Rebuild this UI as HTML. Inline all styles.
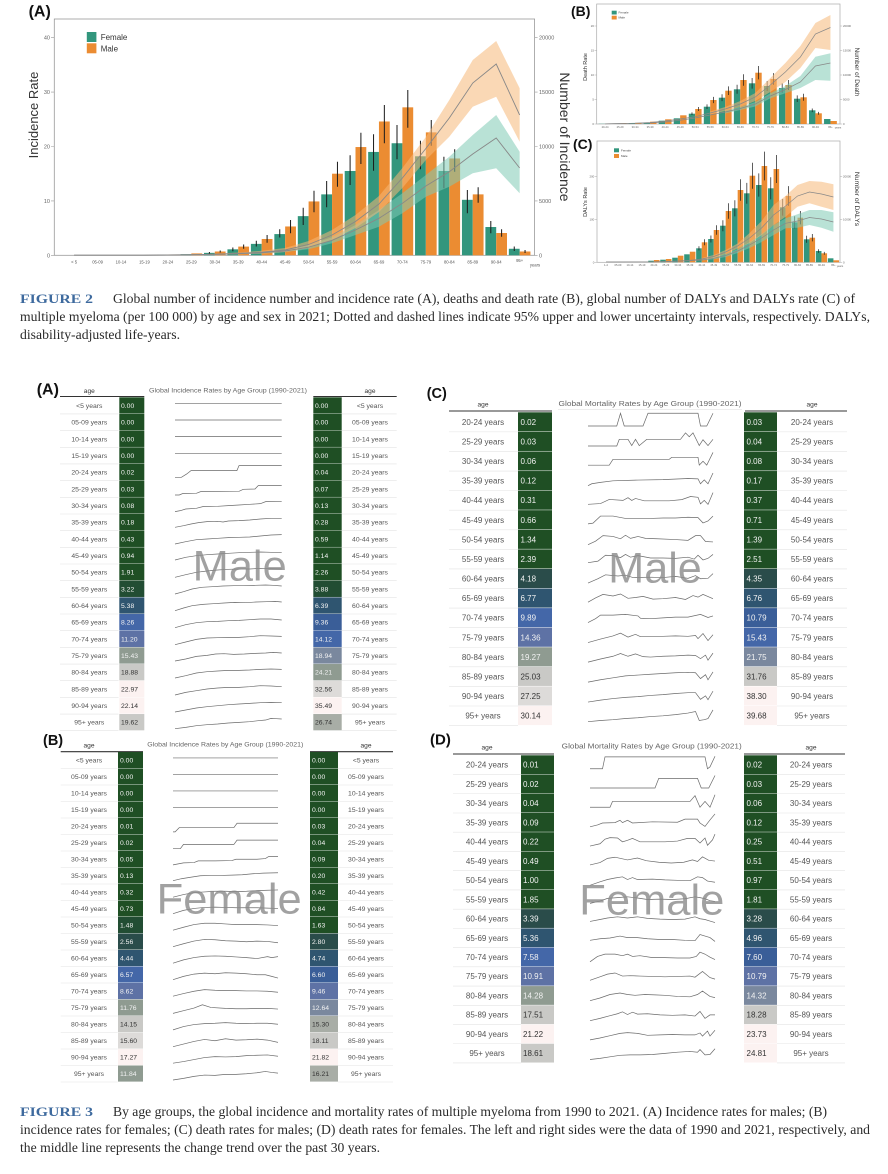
<!DOCTYPE html>
<html><head><meta charset="utf-8">
<style>
html,body{margin:0;padding:0;background:#fff;}
svg{display:block}
text{font-family:"Liberation Sans",Arial,sans-serif}
.a{font-size:6.8px;fill:#555;text-anchor:middle}
.v{font-size:6.8px;fill:#f2f2f2}
.g2 .a,.g2 .v{font-size:8px}
.vd{fill:#333}
.s{fill:none;stroke:#6a6a6a;stroke-width:0.7;vector-effect:non-scaling-stroke}
.sep{stroke:#e4e4e4;stroke-width:0.6;fill:none}
.c0{fill:#1f4f24}.c1{fill:#224d33}.c2{fill:#2a4c4a}.c3{fill:#2f5570}.c4{fill:#3a5e98}.c5{fill:#4467a8}.c6{fill:#5e72a5}.c7{fill:#7a889e}.c8{fill:#8f9b91}.c9{fill:#a8ada6}.c10{fill:#c9c9c6}.c11{fill:#dddbd9}.c12{fill:#fcf2f1}
.tf{fill:#32967d}.to{fill:#eb8c32}
.xl{font-size:4.2px;fill:#555;text-anchor:middle}
.xs{font-size:2.7px;fill:#666;text-anchor:middle}
.tk{font-size:5.5px;fill:#666}
.tk2{font-size:2.9px;fill:#666}
.cap{font-family:"Liberation Serif",serif;font-size:13.5px;fill:#2a2a2a}
.fig{font-family:"Liberation Serif",serif;font-size:12.5px;fill:#3e6a9e;font-weight:bold}
.lab{font-weight:bold;fill:#111}
.hd{font-size:6.6px;fill:#333;text-anchor:middle}
.ttl{fill:#666;text-anchor:middle}
.wm{font-size:43px;fill:#8a8a8a;fill-opacity:0.8}
</style></head>
<body>
<svg width="888" height="1174" viewBox="0 0 888 1174" xmlns="http://www.w3.org/2000/svg">
<rect width="888" height="1174" fill="#fff"/>

<!-- ================= CHART A ================= -->
<text class="lab" x="28.6" y="16.5" font-size="16">(A)</text>
<rect x="54.3" y="19" width="480.3" height="236.3" fill="none" stroke="#999" stroke-width="0.8"/>
<path d="M51 255.3h3.3M51 200.9h3.3M51 146.5h3.3M51 92.1h3.3M51 37.7h3.3M534.6 255.3h3M534.6 200.9h3M534.6 146.5h3M534.6 92.1h3M534.6 37.7h3" stroke="#999" stroke-width="0.6"/>
<g class="tk" text-anchor="end">
<text x="50" y="257.3">0</text><text x="50" y="202.9">10</text><text x="50" y="148.5">20</text><text x="50" y="94.1">30</text><text x="50" y="39.7">40</text>
</g>
<g class="tk">
<text x="539" y="257.3">0</text><text x="539" y="202.9">5000</text><text x="539" y="148.5">10000</text><text x="539" y="94.1">15000</text><text x="539" y="39.7">20000</text>
</g>
<text transform="translate(38,115) rotate(-90)" font-size="13" fill="#333" text-anchor="middle">Incidence Rate</text>
<text transform="translate(560,137) rotate(90)" font-size="14" fill="#333" text-anchor="middle">Number of Incidence</text>
<!-- legend -->
<rect class="tf" x="86.8" y="32" width="9.6" height="10"/>
<rect class="to" x="86.8" y="43.3" width="9.6" height="10"/>
<text x="100.7" y="40" font-size="8" fill="#333">Female</text>
<text x="100.7" y="51.3" font-size="8" fill="#333">Male</text>
<!-- bars female -->
<g class="tf">
<rect x="157.1" y="254.76" width="10.8" height="0.54"/>
<rect x="180.55" y="254.21" width="10.8" height="1.09"/>
<rect x="204" y="252.85" width="10.8" height="2.45"/>
<rect x="227.45" y="249.32" width="10.8" height="5.98"/>
<rect x="250.9" y="243.88" width="10.8" height="11.42"/>
<rect x="274.35" y="234.08" width="10.8" height="21.22"/>
<rect x="297.8" y="216.13" width="10.8" height="39.17"/>
<rect x="321.25" y="194.37" width="10.8" height="60.93"/>
<rect x="344.7" y="170.98" width="10.8" height="84.32"/>
<rect x="368.15" y="151.94" width="10.8" height="103.36"/>
<rect x="391.6" y="143.24" width="10.8" height="112.06"/>
<rect x="415.05" y="156.29" width="10.8" height="99.01"/>
<rect x="438.5" y="170.98" width="10.8" height="84.32"/>
<rect x="461.95" y="199.81" width="10.8" height="55.49"/>
<rect x="485.4" y="227.01" width="10.8" height="28.29"/>
<rect x="508.85" y="248.77" width="10.8" height="6.53"/>
</g>
<g class="to">
<rect x="167.9" y="254.48" width="10.8" height="0.82"/>
<rect x="191.35" y="253.4" width="10.8" height="1.9"/>
<rect x="214.8" y="251.49" width="10.8" height="3.81"/>
<rect x="238.25" y="246.6" width="10.8" height="8.7"/>
<rect x="261.7" y="238.98" width="10.8" height="16.32"/>
<rect x="285.15" y="226.47" width="10.8" height="28.83"/>
<rect x="308.6" y="201.44" width="10.8" height="53.86"/>
<rect x="332.05" y="173.7" width="10.8" height="81.6"/>
<rect x="355.5" y="147.04" width="10.8" height="108.26"/>
<rect x="378.95" y="121.48" width="10.8" height="133.82"/>
<rect x="402.4" y="107.33" width="10.8" height="147.97"/>
<rect x="425.85" y="132.36" width="10.8" height="122.94"/>
<rect x="449.3" y="158.47" width="10.8" height="96.83"/>
<rect x="472.75" y="194.37" width="10.8" height="60.93"/>
<rect x="496.2" y="233" width="10.8" height="22.3"/>
<rect x="519.65" y="251.49" width="10.8" height="3.81"/>
</g>
<path stroke="#1a1a1a" stroke-width="1" fill="none" d="M209.4 252V253.7M232.85 247.5V251.2M256.3 240.7V246.5M279.75 229.3V237.5M303.2 207.7V225M326.65 181V207.3M350.1 155.3V185M373.55 134.3V170.7M397 125V159.3M420.45 140.7V169.3M443.9 156.7V188.3M467.35 190V213.3M490.8 221V233.3M514.25 246.5V251M220.2 250.5V252.5M243.65 244.5V248.8M267.1 235V242.7M290.55 220V233.3M314 190.7V212.3M337.45 161.7V186.7M360.9 132.7V164M384.35 105V143.3M407.8 90V127.7M431.25 120V145.7M454.7 149.3V171.7M478.15 187.3V202.7M501.6 229.3V236.7M525.05 250V253"/>
<!-- bands -->
<polygon fill="#7fcab5" fill-opacity="0.55" points="167.9,254.8 191.35,254.4 214.8,254 238.25,253.2 261.7,252 285.15,250 308.6,245 332.05,237.3 355.5,225 378.95,210 402.4,193.3 425.85,175 449.3,156.7 472.75,135 496.2,115 519.65,151.7 519.65,193.3 496.2,168.3 472.75,173.3 449.3,186.7 425.85,196.7 402.4,213.3 378.95,226.7 355.5,235 332.05,243.3 308.6,249.3 285.15,252 261.7,253.6 238.25,254.2 214.8,254.7 191.35,254.9 167.9,255.1"/>
<polygon fill="#f5b878" fill-opacity="0.55" points="167.9,254.9 191.35,254.5 214.8,253.8 238.25,252.5 261.7,250.8 285.15,248 308.6,241 332.05,230 355.5,215 378.95,196 402.4,168 425.85,137 449.3,100 472.75,60 496.2,41 519.65,88.3 519.65,141.7 496.2,96.7 472.75,106.7 449.3,136.7 425.85,160 402.4,188 378.95,212 355.5,228 332.05,240 308.6,248 285.15,252 261.7,253.6 238.25,254.2 214.8,254.7 191.35,255 167.9,255.2"/>
<polyline fill="none" stroke="#888" stroke-width="0.9" points="74.1,255.2 144.45,255.2 167.9,255 191.35,254.8 214.8,254.4 238.25,253.7 261.7,252.8 285.15,251 308.6,247.2 332.05,240.3 355.5,230 378.95,218.3 402.4,203.3 425.85,186 449.3,171.7 472.75,154 496.2,138 519.65,168"/>
<polyline fill="none" stroke="#888" stroke-width="0.9" points="74.1,255.2 144.45,255.2 167.9,255 191.35,254.7 214.8,254.2 238.25,253.3 261.7,252.2 285.15,250 308.6,244.5 332.05,235 355.5,221.5 378.95,204 402.4,178 425.85,148.5 449.3,118 472.75,83 496.2,64 519.65,115"/>
<g class="xl">
<text x="74.1" y="263.5">&lt; 5</text><text x="97.55" y="263.5">05-09</text><text x="121" y="263.5">10-14</text><text x="144.45" y="263.5">15-19</text><text x="167.9" y="263.5">20-24</text><text x="191.35" y="263.5">25-29</text><text x="214.8" y="263.5">30-34</text><text x="238.25" y="263.5">35-39</text><text x="261.7" y="263.5">40-44</text><text x="285.15" y="263.5">45-49</text><text x="308.6" y="263.5">50-54</text><text x="332.05" y="263.5">55-59</text><text x="355.5" y="263.5">60-64</text><text x="378.95" y="263.5">65-69</text><text x="402.4" y="263.5">70-74</text><text x="425.85" y="263.5">75-79</text><text x="449.3" y="263.5">80-84</text><text x="472.75" y="263.5">85-89</text><text x="496.2" y="263.5">90-94</text><text x="519.65" y="262">95+</text><text x="535" y="266.5">years</text>
</g>

<!-- ================= CHART B ================= -->
<text class="lab" x="571" y="16" font-size="14">(B)</text>
<rect x="596.7" y="4" width="243.3" height="120" fill="none" stroke="#aaa" stroke-width="0.7"/>
<path d="M594.5 124h2.2M594.5 99.5h2.2M594.5 75h2.2M594.5 50.3h2.2M594.5 26h2.2M840 124h2.2M840 99.5h2.2M840 75h2.2M840 50.3h2.2M840 26h2.2" stroke="#aaa" stroke-width="0.5"/>
<g class="tk2" text-anchor="end"><text x="594" y="125">0</text><text x="594" y="100.5">5</text><text x="594" y="76">10</text><text x="594" y="51.3">15</text><text x="594" y="27">20</text></g>
<g class="tk2"><text x="843" y="125">0</text><text x="843" y="100.5">5000</text><text x="843" y="76">10000</text><text x="843" y="51.3">15000</text><text x="843" y="27">20000</text></g>
<text transform="translate(587,67) rotate(-90)" font-size="5.5" fill="#333" text-anchor="middle">Death Rate</text>
<text transform="translate(855,72) rotate(90)" font-size="6.4" fill="#333" text-anchor="middle">Number of Death</text>
<rect class="tf" x="611.7" y="10.7" width="5" height="3.8"/><rect class="to" x="611.7" y="15.7" width="5" height="3.8"/>
<text x="618.5" y="13.6" font-size="3" fill="#444">Female</text><text x="618.5" y="18.6" font-size="3" fill="#444">Male</text>
<g class="tf">
<rect x="598.6" y="123.8" width="6.4" height="0.2"/><rect x="613.63" y="123.7" width="6.4" height="0.3"/><rect x="628.66" y="123.3" width="6.4" height="0.7"/><rect x="643.69" y="122.7" width="6.4" height="1.3"/><rect x="658.72" y="120.7" width="6.4" height="3.3"/><rect x="673.75" y="118.3" width="6.4" height="5.7"/><rect x="688.78" y="113.7" width="6.4" height="10.3"/><rect x="703.81" y="106.7" width="6.4" height="17.3"/><rect x="718.84" y="97.7" width="6.4" height="26.3"/><rect x="733.87" y="89.3" width="6.4" height="34.7"/><rect x="748.9" y="83.3" width="6.4" height="40.7"/><rect x="763.93" y="86" width="6.4" height="38"/><rect x="778.96" y="88" width="6.4" height="36"/><rect x="793.99" y="98.7" width="6.4" height="25.3"/><rect x="809.02" y="110.3" width="6.4" height="13.7"/><rect x="824.05" y="119" width="6.4" height="5"/>
</g>
<g class="to">
<rect x="605" y="123.7" width="6.4" height="0.3"/><rect x="620.03" y="123.5" width="6.4" height="0.5"/><rect x="635.06" y="123" width="6.4" height="1"/><rect x="650.09" y="121.7" width="6.4" height="2.3"/><rect x="665.12" y="119.3" width="6.4" height="4.7"/><rect x="680.15" y="115.3" width="6.4" height="8.7"/><rect x="695.18" y="109" width="6.4" height="15"/><rect x="710.21" y="100" width="6.4" height="24"/><rect x="725.24" y="90.7" width="6.4" height="33.3"/><rect x="740.27" y="80" width="6.4" height="44"/><rect x="755.3" y="72.7" width="6.4" height="51.3"/><rect x="770.33" y="79" width="6.4" height="45"/><rect x="785.36" y="85" width="6.4" height="39"/><rect x="800.39" y="97.3" width="6.4" height="26.7"/><rect x="815.42" y="113.3" width="6.4" height="10.7"/><rect x="830.45" y="121" width="6.4" height="3"/>
</g>
<path stroke="#1a1a1a" stroke-width="0.7" fill="none" d="M691.98 112.4V115M707.01 104.4V109M722.04 94.3V101.1M737.07 84.8V93.8M752.1 78V88.6M767.13 81V91M782.16 83.3V92.7M797.19 95.4V102M812.22 108.5V112.1M698.38 107V111M713.41 96.9V103.1M728.44 86.4V95M743.47 74.3V85.7M758.5 66V79.4M773.53 73.1V84.9M788.56 80V90M803.59 93.8V100.8M818.62 111.9V114.7"/>
<polygon fill="#7fcab5" fill-opacity="0.55" points="725.24,110.5 740.27,107 755.3,102 770.33,93.3 785.36,86 800.39,76 815.42,56.7 830.45,53.3 830.45,80.7 815.42,80 800.39,88 785.36,93.3 770.33,98.3 755.3,106.5 740.27,110 725.24,113.5"/>
<polygon fill="#f5b878" fill-opacity="0.55" points="710.21,111.5 725.24,107 740.27,101 755.3,93 770.33,78 785.36,63 800.39,46 815.42,23 830.45,15 830.45,50 815.42,48 800.39,68 785.36,82 770.33,92 755.3,101 740.27,107 725.24,111 710.21,114.5"/>
<polyline fill="none" stroke="#888" stroke-width="0.7" points="605,123.8 650.09,123 665.12,122 680.15,120.3 695.18,118 710.21,115 725.24,112 740.27,108.5 755.3,104 770.33,96 785.36,89.5 800.39,82 815.42,66 830.45,63"/>
<polyline fill="none" stroke="#888" stroke-width="0.7" points="605,123.8 635.06,123.2 650.09,122.5 665.12,121 680.15,119 695.18,116.7 710.21,113 725.24,109 740.27,104 755.3,97 770.33,85 785.36,72 800.39,57 815.42,34 830.45,27.5"/>
<g class="xs">
<text x="605" y="127.8">20-24</text><text x="620.03" y="127.8">25-29</text><text x="635.06" y="127.8">30-34</text><text x="650.09" y="127.8">35-39</text><text x="665.12" y="127.8">40-44</text><text x="680.15" y="127.8">45-49</text><text x="695.18" y="127.8">50-54</text><text x="710.21" y="127.8">55-59</text><text x="725.24" y="127.8">60-64</text><text x="740.27" y="127.8">65-69</text><text x="755.3" y="127.8">70-74</text><text x="770.33" y="127.8">75-79</text><text x="785.36" y="127.8">80-84</text><text x="800.39" y="127.8">85-89</text><text x="815.42" y="127.8">90-94</text><text x="830.45" y="127.8">95+</text><text x="838" y="128.5">years</text>
</g>

<!-- ================= CHART C ================= -->
<text class="lab" x="573" y="149" font-size="14">(C)</text>
<rect x="597" y="141" width="243" height="121.3" fill="none" stroke="#aaa" stroke-width="0.7"/>
<path d="M594.8 262.3h2.2M594.8 219.5h2.2M594.8 176.7h2.2M840 262.3h2.2M840 219.5h2.2M840 176.7h2.2" stroke="#aaa" stroke-width="0.5"/>
<g class="tk2" text-anchor="end"><text x="594.3" y="263.3">0</text><text x="594.3" y="220.5">100</text><text x="594.3" y="177.7">200</text></g>
<g class="tk2"><text x="843" y="263.3">0</text><text x="843" y="220.5">10000</text><text x="843" y="177.7">20000</text></g>
<text transform="translate(587,202) rotate(-90)" font-size="5.5" fill="#333" text-anchor="middle">DALYs Rate</text>
<text transform="translate(855,199) rotate(90)" font-size="6.8" fill="#333" text-anchor="middle">Number of DALYs</text>
<rect class="tf" x="614" y="148.3" width="5" height="4"/><rect class="to" x="614" y="154" width="5" height="4"/>
<text x="621" y="151.5" font-size="3" fill="#444">Female</text><text x="621" y="157.2" font-size="3" fill="#444">Male</text>
<g class="tf">
<rect x="648.28" y="260.7" width="5.6" height="1.6"/><rect x="660.25" y="259.7" width="5.6" height="2.6"/><rect x="672.22" y="257.7" width="5.6" height="4.6"/><rect x="684.19" y="254.3" width="5.6" height="8"/><rect x="696.16" y="248.3" width="5.6" height="14"/><rect x="708.13" y="239" width="5.6" height="23.3"/><rect x="720.1" y="225.7" width="5.6" height="36.6"/><rect x="732.07" y="208.3" width="5.6" height="54"/><rect x="744.04" y="193.3" width="5.6" height="69"/><rect x="756.01" y="185" width="5.6" height="77.3"/><rect x="767.98" y="188.3" width="5.6" height="74"/><rect x="779.95" y="207.3" width="5.6" height="55"/><rect x="791.92" y="222.3" width="5.6" height="40"/><rect x="803.89" y="239.3" width="5.6" height="23"/><rect x="815.86" y="251" width="5.6" height="11.3"/><rect x="827.83" y="258.3" width="5.6" height="4"/>
</g>
<g class="to">
<rect x="653.88" y="260" width="5.6" height="2.3"/><rect x="665.85" y="259" width="5.6" height="3.3"/><rect x="677.82" y="255.7" width="5.6" height="6.6"/><rect x="689.79" y="251.7" width="5.6" height="10.6"/><rect x="701.76" y="242.3" width="5.6" height="20"/><rect x="713.73" y="230" width="5.6" height="32.3"/><rect x="725.7" y="211" width="5.6" height="51.3"/><rect x="737.67" y="190" width="5.6" height="72.3"/><rect x="749.64" y="175.7" width="5.6" height="86.6"/><rect x="761.61" y="166" width="5.6" height="96.3"/><rect x="773.58" y="169" width="5.6" height="93.3"/><rect x="785.55" y="196" width="5.6" height="66.3"/><rect x="797.52" y="217.7" width="5.6" height="44.6"/><rect x="809.49" y="237.7" width="5.6" height="24.6"/><rect x="821.46" y="253.3" width="5.6" height="9"/><rect x="833.43" y="260.3" width="5.6" height="2"/>
</g>
<path stroke="#1a1a1a" stroke-width="0.7" fill="none" d="M698.96 246.2V250.4M710.93 235.5V242.5M722.9 220.2V231.2M734.87 200.2V216.4M746.84 182.9V203.7M758.81 173.4V196.6M770.78 177.2V199.4M782.75 199V215.6M794.72 216.3V228.3M806.69 235.8V242.8M818.66 249.3V252.7M704.56 239.3V245.3M716.53 225.2V234.8M728.5 203.3V218.7M740.47 179.2V200.8M752.44 162.7V188.7M764.41 151.6V180.4M776.38 155V183M788.35 186.1V205.9M800.32 211V224.4M812.29 234V241.4M824.26 251.9V254.7"/>
<polygon fill="#7fcab5" fill-opacity="0.55" points="701.76,259.5 713.73,257.3 725.7,254 737.67,249 749.64,242 761.61,234 773.58,225 785.55,218.3 797.52,214.3 809.49,210 821.46,210 833.43,212.3 833.43,231.7 821.46,227.7 809.49,225 797.52,227.7 785.55,228.3 773.58,235 761.61,242 749.64,248 737.67,253 725.7,257 713.73,259.3 701.76,260.5"/>
<polygon fill="#f5b878" fill-opacity="0.55" points="701.76,258 713.73,255 725.7,250 737.67,243.5 749.64,233 761.61,221 773.58,205 785.55,196 797.52,185 809.49,181 821.46,181.7 833.43,184.3 833.43,210 821.46,206.7 809.49,203.3 797.52,206.7 785.55,216.7 773.58,225 761.61,235 749.64,243 737.67,248.5 725.7,254 713.73,258 701.76,260"/>
<polyline fill="none" stroke="#888" stroke-width="0.7" points="606,262 653.88,261.9 665.85,261.7 677.82,261.3 689.79,260.8 701.76,260 713.73,258.3 725.7,255.5 737.67,251 749.64,245 761.61,238 773.58,230 785.55,223.3 797.52,221 809.49,217.5 821.46,219 833.43,222"/>
<polyline fill="none" stroke="#888" stroke-width="0.7" points="606,262 653.88,261.8 665.85,261.5 677.82,261 689.79,260.3 701.76,259 713.73,256.5 725.7,252 737.67,246 749.64,238 761.61,228 773.58,215 785.55,206 797.52,196 809.49,192 821.46,194 833.43,197"/>
<g class="xs">
<text x="606" y="266">1-4</text><text x="617.97" y="266">05-09</text><text x="629.94" y="266">10-14</text><text x="641.91" y="266">15-19</text><text x="653.88" y="266">20-24</text><text x="665.85" y="266">25-29</text><text x="677.82" y="266">30-34</text><text x="689.79" y="266">35-39</text><text x="701.76" y="266">40-44</text><text x="713.73" y="266">45-49</text><text x="725.7" y="266">50-54</text><text x="737.67" y="266">55-59</text><text x="749.64" y="266">60-64</text><text x="761.61" y="266">65-69</text><text x="773.58" y="266">70-74</text><text x="785.55" y="266">75-79</text><text x="797.52" y="266">80-84</text><text x="809.49" y="266">85-89</text><text x="821.46" y="266">90-94</text><text x="833.43" y="266">95+</text><text x="840" y="266.8">years</text>
</g>

<!-- ================= FIGURE 2 CAPTION ================= -->
<text class="fig" x="20" y="303" textLength="73" lengthAdjust="spacingAndGlyphs">FIGURE 2</text>
<text class="cap" x="113" y="303" textLength="742" lengthAdjust="spacingAndGlyphs">Global number of incidence number and incidence rate (A), deaths and death rate (B), global number of DALYs and DALYs rate (C) of</text>
<text class="cap" x="20" y="321" textLength="850" lengthAdjust="spacingAndGlyphs">multiple myeloma (per 100 000) by age and sex in 2021; Dotted and dashed lines indicate 95% upper and lower uncertainty intervals, respectively. DALYs,</text>
<text class="cap" x="20" y="339" textLength="160" lengthAdjust="spacingAndGlyphs">disability-adjusted life-years.</text>

<!-- ================= PANEL A (table) ================= -->
<text class="lab" x="36.7" y="394.5" font-size="16">(A)</text>
<text class="hd" x="89.3" y="393">age</text><text class="hd" x="370" y="393">age</text>
<text class="ttl" x="228" y="392.3" font-size="6.6" textLength="158" lengthAdjust="spacingAndGlyphs">Global Incidence Rates by Age Group (1990-2021)</text>
<path d="M60 396.5H144.3M313.3 396.5H396.7" stroke="#333" stroke-width="1.1"/>
<g>
<g transform="translate(0,397.3)"><text class="a" x="89.3" y="10.7">&lt;5 years</text><rect class="c0" x="119.3" width="25" height="16.3"/><text class="v" x="121" y="10.7">0.00</text><polyline class="s" transform="translate(175 0) scale(1.067 1.667)" points="0,3.6 100,3.6"/><rect class="c0" x="313.3" width="28.4" height="16.3"/><text class="v" x="315" y="10.7">0.00</text><text class="a" x="370" y="10.7">&lt;5 years</text><path class="sep" d="M60 16.67h58.5M341.7 16.67h55"/></g>
<g transform="translate(0,413.97)"><text class="a" x="89.3" y="10.7">05-09 years</text><rect class="c0" x="119.3" width="25" height="16.3"/><text class="v" x="121" y="10.7">0.00</text><polyline class="s" transform="translate(175 0) scale(1.067 1.667)" points="0,3.6 100,3.6"/><rect class="c0" x="313.3" width="28.4" height="16.3"/><text class="v" x="315" y="10.7">0.00</text><text class="a" x="370" y="10.7">05-09 years</text><path class="sep" d="M60 16.67h58.5M341.7 16.67h55"/></g>
<g transform="translate(0,430.64)"><text class="a" x="89.3" y="10.7">10-14 years</text><rect class="c0" x="119.3" width="25" height="16.3"/><text class="v" x="121" y="10.7">0.00</text><polyline class="s" transform="translate(175 0) scale(1.067 1.667)" points="0,3.6 100,3.6"/><rect class="c0" x="313.3" width="28.4" height="16.3"/><text class="v" x="315" y="10.7">0.00</text><text class="a" x="370" y="10.7">10-14 years</text><path class="sep" d="M60 16.67h58.5M341.7 16.67h55"/></g>
<g transform="translate(0,447.31)"><text class="a" x="89.3" y="10.7">15-19 years</text><rect class="c0" x="119.3" width="25" height="16.3"/><text class="v" x="121" y="10.7">0.00</text><polyline class="s" transform="translate(175 0) scale(1.067 1.667)" points="0,3.6 100,3.6"/><rect class="c0" x="313.3" width="28.4" height="16.3"/><text class="v" x="315" y="10.7">0.00</text><text class="a" x="370" y="10.7">15-19 years</text><path class="sep" d="M60 16.67h58.5M341.7 16.67h55"/></g>
<g transform="translate(0,463.98)"><text class="a" x="89.3" y="10.7">20-24 years</text><rect class="c0" x="119.3" width="25" height="16.3"/><text class="v" x="121" y="10.7">0.02</text><polyline class="s" transform="translate(175 0) scale(1.067 1.667)" points="0,8 6,8 11,6 15,4 58,4 60,1 100,1"/><rect class="c0" x="313.3" width="28.4" height="16.3"/><text class="v" x="315" y="10.7">0.04</text><text class="a" x="370" y="10.7">20-24 years</text><path class="sep" d="M60 16.67h58.5M341.7 16.67h55"/></g>
<g transform="translate(0,480.65)"><text class="a" x="89.3" y="10.7">25-29 years</text><rect class="c0" x="119.3" width="25" height="16.3"/><text class="v" x="121" y="10.7">0.03</text><polyline class="s" transform="translate(175 0) scale(1.067 1.667)" points="0,8.6 4,8.6 7,7.8 20,7.6 24,6.6 60,6.4 64,5.2 75,5 78,3 100,3"/><rect class="c0" x="313.3" width="28.4" height="16.3"/><text class="v" x="315" y="10.7">0.07</text><text class="a" x="370" y="10.7">25-29 years</text><path class="sep" d="M60 16.67h58.5M341.7 16.67h55"/></g>
<g transform="translate(0,497.32)"><text class="a" x="89.3" y="10.7">30-34 years</text><rect class="c0" x="119.3" width="25" height="16.3"/><text class="v" x="121" y="10.7">0.08</text><polyline class="s" transform="translate(175 0) scale(1.067 1.667)" points="0,8.6 5,8 10,7 20,6.6 26,5.6 40,5.4 50,5 60,4.6 70,4.2 80,3.8 85,2.6 100,2.4"/><rect class="c0" x="313.3" width="28.4" height="16.3"/><text class="v" x="315" y="10.7">0.13</text><text class="a" x="370" y="10.7">30-34 years</text><path class="sep" d="M60 16.67h58.5M341.7 16.67h55"/></g>
<g transform="translate(0,513.99)"><text class="a" x="89.3" y="10.7">35-39 years</text><rect class="c0" x="119.3" width="25" height="16.3"/><text class="v" x="121" y="10.7">0.18</text><polyline class="s" transform="translate(175 0) scale(1.067 1.667)" points="0,8 8,7 15,6 22,5.2 30,4.6 40,4.4 45,4.8 50,4.2 60,4 70,3.6 80,3 90,2.6 100,2.6"/><rect class="c0" x="313.3" width="28.4" height="16.3"/><text class="v" x="315" y="10.7">0.28</text><text class="a" x="370" y="10.7">35-39 years</text><path class="sep" d="M60 16.67h58.5M341.7 16.67h55"/></g>
<g transform="translate(0,530.66)"><text class="a" x="89.3" y="10.7">40-44 years</text><rect class="c0" x="119.3" width="25" height="16.3"/><text class="v" x="121" y="10.7">0.43</text><polyline class="s" transform="translate(175 0) scale(1.067 1.667)" points="0,8 10,6.6 20,5.4 30,5 40,4.6 50,4.2 60,4 70,3.8 80,3.2 90,2.6 100,2.4"/><rect class="c0" x="313.3" width="28.4" height="16.3"/><text class="v" x="315" y="10.7">0.59</text><text class="a" x="370" y="10.7">40-44 years</text><path class="sep" d="M60 16.67h58.5M341.7 16.67h55"/></g>
<g transform="translate(0,547.33)"><text class="a" x="89.3" y="10.7">45-49 years</text><rect class="c0" x="119.3" width="25" height="16.3"/><text class="v" x="121" y="10.7">0.94</text><polyline class="s" transform="translate(175 0) scale(1.067 1.667)" points="0,7.6 10,6 20,5 30,4.4 40,4 50,3.6 60,3.2 70,3 80,2.8 90,3 100,3.2"/><rect class="c0" x="313.3" width="28.4" height="16.3"/><text class="v" x="315" y="10.7">1.14</text><text class="a" x="370" y="10.7">45-49 years</text><path class="sep" d="M60 16.67h58.5M341.7 16.67h55"/></g>
<g transform="translate(0,564)"><text class="a" x="89.3" y="10.7">50-54 years</text><rect class="c0" x="119.3" width="25" height="16.3"/><text class="v" x="121" y="10.7">1.91</text><polyline class="s" transform="translate(175 0) scale(1.067 1.667)" points="0,8 10,6.4 20,5 30,4.2 40,3.6 50,3.2 60,3 70,3 80,2.6 90,2.8 100,3"/><rect class="c0" x="313.3" width="28.4" height="16.3"/><text class="v" x="315" y="10.7">2.26</text><text class="a" x="370" y="10.7">50-54 years</text><path class="sep" d="M60 16.67h58.5M341.7 16.67h55"/></g>
<g transform="translate(0,580.67)"><text class="a" x="89.3" y="10.7">55-59 years</text><rect class="c1" x="119.3" width="25" height="16.3"/><text class="v" x="121" y="10.7">3.22</text><polyline class="s" transform="translate(175 0) scale(1.067 1.667)" points="0,8 8,6.6 16,5 25,4 35,3.6 45,3.2 55,3 65,3 75,2.8 85,2.6 92,2.8 100,3.2"/><rect class="c1" x="313.3" width="28.4" height="16.3"/><text class="v" x="315" y="10.7">3.88</text><text class="a" x="370" y="10.7">55-59 years</text><path class="sep" d="M60 16.67h58.5M341.7 16.67h55"/></g>
<g transform="translate(0,597.34)"><text class="a" x="89.3" y="10.7">60-64 years</text><rect class="c3" x="119.3" width="25" height="16.3"/><text class="v" x="121" y="10.7">5.38</text><polyline class="s" transform="translate(175 0) scale(1.067 1.667)" points="0,8 8,6.4 16,5 26,4.2 36,3.8 46,3.4 56,3 66,3.2 76,2.8 86,2.6 94,2.4 100,2.8"/><rect class="c3" x="313.3" width="28.4" height="16.3"/><text class="v" x="315" y="10.7">6.39</text><text class="a" x="370" y="10.7">60-64 years</text><path class="sep" d="M60 16.67h58.5M341.7 16.67h55"/></g>
<g transform="translate(0,614.01)"><text class="a" x="89.3" y="10.7">65-69 years</text><rect class="c5" x="119.3" width="25" height="16.3"/><text class="v" x="121" y="10.7">8.26</text><polyline class="s" transform="translate(175 0) scale(1.067 1.667)" points="0,8.2 10,6.4 20,5.2 30,4.6 40,4.4 50,4 60,3.8 70,3.4 80,3 90,3 100,3.6"/><rect class="c4" x="313.3" width="28.4" height="16.3"/><text class="v" x="315" y="10.7">9.36</text><text class="a" x="370" y="10.7">65-69 years</text><path class="sep" d="M60 16.67h58.5M341.7 16.67h55"/></g>
<g transform="translate(0,630.68)"><text class="a" x="89.3" y="10.7">70-74 years</text><rect class="c6" x="119.3" width="25" height="16.3"/><text class="v" x="121" y="10.7">11.20</text><polyline class="s" transform="translate(175 0) scale(1.067 1.667)" points="0,8.4 10,6.8 20,5.2 30,4.4 40,4.2 50,4 60,4 70,3.6 80,3 90,3.2 100,3.4"/><rect class="c5" x="313.3" width="28.4" height="16.3"/><text class="v" x="315" y="10.7">14.12</text><text class="a" x="370" y="10.7">70-74 years</text><path class="sep" d="M60 16.67h58.5M341.7 16.67h55"/></g>
<g transform="translate(0,647.35)"><text class="a" x="89.3" y="10.7">75-79 years</text><rect class="c8" x="119.3" width="25" height="16.3"/><text class="v" x="121" y="10.7">15.43</text><polyline class="s" transform="translate(175 0) scale(1.067 1.667)" points="0,8.2 10,7 20,5.4 30,4.8 38,4 46,3.8 55,4.2 65,4 75,3.6 85,3.4 92,3 100,3.4"/><rect class="c7" x="313.3" width="28.4" height="16.3"/><text class="v" x="315" y="10.7">18.94</text><text class="a" x="370" y="10.7">75-79 years</text><path class="sep" d="M60 16.67h58.5M341.7 16.67h55"/></g>
<g transform="translate(0,664.02)"><text class="a" x="89.3" y="10.7">80-84 years</text><rect class="c10" x="119.3" width="25" height="16.3"/><text class="v vd" x="121" y="10.7">18.88</text><polyline class="s" transform="translate(175 0) scale(1.067 1.667)" points="0,8.4 10,7 20,5.4 30,4.6 40,4.2 50,3.8 60,3.8 70,3.6 80,3.2 90,3 100,3.2"/><rect class="c8" x="313.3" width="28.4" height="16.3"/><text class="v" x="315" y="10.7">24.21</text><text class="a" x="370" y="10.7">80-84 years</text><path class="sep" d="M60 16.67h58.5M341.7 16.67h55"/></g>
<g transform="translate(0,680.69)"><text class="a" x="89.3" y="10.7">85-89 years</text><rect class="c12" x="119.3" width="25" height="16.3"/><text class="v vd" x="121" y="10.7">22.97</text><polyline class="s" transform="translate(175 0) scale(1.067 1.667)" points="0,8.6 10,7 20,6 30,5 40,4.4 50,4 60,4 70,3.6 80,3 90,3.2 100,3.6"/><rect class="c11" x="313.3" width="28.4" height="16.3"/><text class="v vd" x="315" y="10.7">32.56</text><text class="a" x="370" y="10.7">85-89 years</text><path class="sep" d="M60 16.67h58.5M341.7 16.67h55"/></g>
<g transform="translate(0,697.36)"><text class="a" x="89.3" y="10.7">90-94 years</text><rect class="c12" x="119.3" width="25" height="16.3"/><text class="v vd" x="121" y="10.7">22.14</text><polyline class="s" transform="translate(175 0) scale(1.067 1.667)" points="0,8.8 10,7.6 20,6.4 30,5.6 40,5 50,4.4 60,4 70,3.6 80,3.2 90,3 100,3.2"/><rect class="c12" x="313.3" width="28.4" height="16.3"/><text class="v vd" x="315" y="10.7">35.49</text><text class="a" x="370" y="10.7">90-94 years</text><path class="sep" d="M60 16.67h58.5M341.7 16.67h55"/></g>
<g transform="translate(0,714.03)"><text class="a" x="89.3" y="10.7">95+ years</text><rect class="c10" x="119.3" width="25" height="16.3"/><text class="v vd" x="121" y="10.7">19.62</text><polyline class="s" transform="translate(175 0) scale(1.067 1.667)" points="0,8.8 10,8 20,7 30,6.4 40,6 50,5.4 60,5 70,4.6 78,4 85,3.6 90,2.6 95,2.8 100,3"/><rect class="c9" x="313.3" width="28.4" height="16.3"/><text class="v vd" x="315" y="10.7">26.74</text><text class="a" x="370" y="10.7">95+ years</text><path class="sep" d="M60 16.67h58.5M341.7 16.67h55"/></g>
</g>
<text class="wm" x="192.7" y="580.5" textLength="94" lengthAdjust="spacingAndGlyphs">Male</text>

<!-- ================= PANEL C (table) ================= -->
<text class="lab" x="426.7" y="398" font-size="14.5">(C)</text>
<text class="hd" x="483" y="406.5" font-size="7.5">age</text><text class="hd" x="812" y="406.5" font-size="7.5">age</text>
<text class="ttl" x="650" y="406" font-size="7.6" textLength="183" lengthAdjust="spacingAndGlyphs">Global Mortality Rates by Age Group (1990-2021)</text>
<path d="M558 409.3H742" stroke="#e2e2e2" stroke-width="0.6"/>
<path d="M449 411H552M745 411H847" stroke="#333" stroke-width="1.1"/>
<g class="g2">
<g transform="translate(0,412.3)"><text class="a" x="483" y="12.6">20-24 years</text><rect class="c0" x="518" width="34" height="19.1"/><text class="v" x="520.5" y="12.6">0.02</text><polyline class="s" transform="translate(588 0) scale(1.25 1.958)" points="0,7 23,7 26,0.5 29,7 44,7 48,0.5 88,0.5 90,7 95,7 100,0.5"/><rect class="c0" x="744" width="33" height="19.1"/><text class="v" x="746.5" y="12.6">0.03</text><text class="a" x="812" y="12.6">20-24 years</text><path class="sep" d="M449 19.58h69M777 19.58h70"/></g>
<g transform="translate(0,431.88)"><text class="a" x="483" y="12.6">25-29 years</text><rect class="c0" x="518" width="34" height="19.1"/><text class="v" x="520.5" y="12.6">0.03</text><polyline class="s" transform="translate(588 0) scale(1.25 1.958)" points="0,7.2 23,7.2 25,3.8 32,3.8 35,7 38,3.8 41,7 47,3.8 74,3.8 78,0.5 81,2.5 84,0.5 89,7 92,4 96,7 100,3.8"/><rect class="c0" x="744" width="33" height="19.1"/><text class="v" x="746.5" y="12.6">0.04</text><text class="a" x="812" y="12.6">25-29 years</text><path class="sep" d="M449 19.58h69M777 19.58h70"/></g>
<g transform="translate(0,451.46)"><text class="a" x="483" y="12.6">30-34 years</text><rect class="c0" x="518" width="34" height="19.1"/><text class="v" x="520.5" y="12.6">0.06</text><polyline class="s" transform="translate(588 0) scale(1.25 1.958)" points="0,7 17,7 20,4 65,4 67,3 88,3 89,7 92,5 95,7 100,0.5"/><rect class="c0" x="744" width="33" height="19.1"/><text class="v" x="746.5" y="12.6">0.08</text><text class="a" x="812" y="12.6">30-34 years</text><path class="sep" d="M449 19.58h69M777 19.58h70"/></g>
<g transform="translate(0,471.04)"><text class="a" x="483" y="12.6">35-39 years</text><rect class="c0" x="518" width="34" height="19.1"/><text class="v" x="520.5" y="12.6">0.12</text><polyline class="s" transform="translate(588 0) scale(1.25 1.958)" points="0,7.5 3,6.5 10,5.8 20,5 40,4.6 60,4.4 80,3.8 88,4 90,6.5 93,4.5 96,6.5 100,1"/><rect class="c0" x="744" width="33" height="19.1"/><text class="v" x="746.5" y="12.6">0.17</text><text class="a" x="812" y="12.6">35-39 years</text><path class="sep" d="M449 19.58h69M777 19.58h70"/></g>
<g transform="translate(0,490.62)"><text class="a" x="483" y="12.6">40-44 years</text><rect class="c0" x="518" width="34" height="19.1"/><text class="v" x="520.5" y="12.6">0.31</text><polyline class="s" transform="translate(588 0) scale(1.25 1.958)" points="0,7 10,6.6 17,4.5 28,5 32,3.6 35,5 38,4 45,5.2 65,5.2 75,4.6 82,3 88,3.4 90,6.8 93,5 96,7 100,1"/><rect class="c0" x="744" width="33" height="19.1"/><text class="v" x="746.5" y="12.6">0.37</text><text class="a" x="812" y="12.6">40-44 years</text><path class="sep" d="M449 19.58h69M777 19.58h70"/></g>
<g transform="translate(0,510.2)"><text class="a" x="483" y="12.6">45-49 years</text><rect class="c0" x="518" width="34" height="19.1"/><text class="v" x="520.5" y="12.6">0.66</text><polyline class="s" transform="translate(588 0) scale(1.25 1.958)" points="0,7 4,6.6 10,3 20,3 30,4.2 50,4.2 60,4 70,4 80,3.6 88,3.8 92,6.5 96,5.5 100,3"/><rect class="c0" x="744" width="33" height="19.1"/><text class="v" x="746.5" y="12.6">0.71</text><text class="a" x="812" y="12.6">45-49 years</text><path class="sep" d="M449 19.58h69M777 19.58h70"/></g>
<g transform="translate(0,529.78)"><text class="a" x="483" y="12.6">50-54 years</text><rect class="c0" x="518" width="34" height="19.1"/><text class="v" x="520.5" y="12.6">1.34</text><polyline class="s" transform="translate(588 0) scale(1.25 1.958)" points="0,7.6 6,5.8 12,3 20,3.4 26,4.6 30,2.8 34,4.4 40,3.4 46,4.4 55,4.6 70,5 80,5.4 86,3 90,3 94,6 100,6.2"/><rect class="c0" x="744" width="33" height="19.1"/><text class="v" x="746.5" y="12.6">1.39</text><text class="a" x="812" y="12.6">50-54 years</text><path class="sep" d="M449 19.58h69M777 19.58h70"/></g>
<g transform="translate(0,549.36)"><text class="a" x="483" y="12.6">55-59 years</text><rect class="c0" x="518" width="34" height="19.1"/><text class="v" x="520.5" y="12.6">2.39</text><polyline class="s" transform="translate(588 0) scale(1.25 1.958)" points="0,6.8 8,6 14,3 20,3.2 26,4.2 30,2.6 34,4 40,3.2 50,4.4 60,4.4 70,4.6 80,4 85,5 88,3 92,5.4 96,4.6 100,2.6"/><rect class="c0" x="744" width="33" height="19.1"/><text class="v" x="746.5" y="12.6">2.51</text><text class="a" x="812" y="12.6">55-59 years</text><path class="sep" d="M449 19.58h69M777 19.58h70"/></g>
<g transform="translate(0,568.94)"><text class="a" x="483" y="12.6">60-64 years</text><rect class="c2" x="518" width="34" height="19.1"/><text class="v" x="520.5" y="12.6">4.18</text><polyline class="s" transform="translate(588 0) scale(1.25 1.958)" points="0,7.2 8,5 14,3 24,3.6 30,3.2 36,4.4 50,4.2 60,4.4 70,3.8 80,4.8 86,3.4 90,5 96,4.8 100,2.4"/><rect class="c2" x="744" width="33" height="19.1"/><text class="v" x="746.5" y="12.6">4.35</text><text class="a" x="812" y="12.6">60-64 years</text><path class="sep" d="M449 19.58h69M777 19.58h70"/></g>
<g transform="translate(0,588.52)"><text class="a" x="483" y="12.6">65-69 years</text><rect class="c3" x="518" width="34" height="19.1"/><text class="v" x="520.5" y="12.6">6.77</text><polyline class="s" transform="translate(588 0) scale(1.25 1.958)" points="0,7 6,4.8 12,3 20,3.8 26,2.8 32,5 38,4.6 44,4 52,5.4 60,5.2 70,4.6 78,5.6 84,3.6 88,4.4 92,3 100,5.2"/><rect class="c3" x="744" width="33" height="19.1"/><text class="v" x="746.5" y="12.6">6.76</text><text class="a" x="812" y="12.6">65-69 years</text><path class="sep" d="M449 19.58h69M777 19.58h70"/></g>
<g transform="translate(0,608.1)"><text class="a" x="483" y="12.6">70-74 years</text><rect class="c5" x="518" width="34" height="19.1"/><text class="v" x="520.5" y="12.6">9.89</text><polyline class="s" transform="translate(588 0) scale(1.25 1.958)" points="0,7.4 6,5.4 10,3.6 20,3.6 30,3.2 40,4 42,5.2 50,5.4 60,5 70,4.6 80,4.6 90,3.2 96,4.8 100,4"/><rect class="c4" x="744" width="33" height="19.1"/><text class="v" x="746.5" y="12.6">10.79</text><text class="a" x="812" y="12.6">70-74 years</text><path class="sep" d="M449 19.58h69M777 19.58h70"/></g>
<g transform="translate(0,627.68)"><text class="a" x="483" y="12.6">75-79 years</text><rect class="c6" x="518" width="34" height="19.1"/><text class="v" x="520.5" y="12.6">14.36</text><polyline class="s" transform="translate(588 0) scale(1.25 1.958)" points="0,7.6 10,5.8 20,4.2 26,2.8 32,4.8 38,3.4 42,4.6 50,4.4 60,4.4 70,4.2 80,4.4 86,4 88,5.6 92,3 96,6.6 100,3.6"/><rect class="c5" x="744" width="33" height="19.1"/><text class="v" x="746.5" y="12.6">15.43</text><text class="a" x="812" y="12.6">75-79 years</text><path class="sep" d="M449 19.58h69M777 19.58h70"/></g>
<g transform="translate(0,647.26)"><text class="a" x="483" y="12.6">80-84 years</text><rect class="c8" x="518" width="34" height="19.1"/><text class="v" x="520.5" y="12.6">19.27</text><polyline class="s" transform="translate(588 0) scale(1.25 1.958)" points="0,7.6 10,6 20,4.6 26,3.2 32,4.6 38,3.4 44,4.8 50,5 60,4.6 70,4.4 80,4 86,4.2 90,5.8 94,4 96,6.6 100,3"/><rect class="c7" x="744" width="33" height="19.1"/><text class="v" x="746.5" y="12.6">21.75</text><text class="a" x="812" y="12.6">80-84 years</text><path class="sep" d="M449 19.58h69M777 19.58h70"/></g>
<g transform="translate(0,666.84)"><text class="a" x="483" y="12.6">85-89 years</text><rect class="c10" x="518" width="34" height="19.1"/><text class="v vd" x="520.5" y="12.6">25.03</text><polyline class="s" transform="translate(588 0) scale(1.25 1.958)" points="0,7.8 10,6.6 20,5.6 30,4.6 40,4.2 50,3.8 60,3.4 70,3 80,2.8 86,3 90,6 94,4 96,6.6 100,2.6"/><rect class="c10" x="744" width="33" height="19.1"/><text class="v vd" x="746.5" y="12.6">31.76</text><text class="a" x="812" y="12.6">85-89 years</text><path class="sep" d="M449 19.58h69M777 19.58h70"/></g>
<g transform="translate(0,686.42)"><text class="a" x="483" y="12.6">90-94 years</text><rect class="c11" x="518" width="34" height="19.1"/><text class="v vd" x="520.5" y="12.6">27.25</text><polyline class="s" transform="translate(588 0) scale(1.25 1.958)" points="0,8 10,7 20,6.2 30,5.6 40,5.2 50,4.6 60,4.2 70,3.6 80,3.2 86,3.2 90,6.6 94,4.8 96,6.8 100,2.4"/><rect class="c12" x="744" width="33" height="19.1"/><text class="v vd" x="746.5" y="12.6">38.30</text><text class="a" x="812" y="12.6">90-94 years</text><path class="sep" d="M449 19.58h69M777 19.58h70"/></g>
<g transform="translate(0,706)"><text class="a" x="483" y="12.6">95+ years</text><rect class="c12" x="518" width="34" height="19.1"/><text class="v vd" x="520.5" y="12.6">30.14</text><polyline class="s" transform="translate(588 0) scale(1.25 1.958)" points="0,8 10,7.4 20,7 30,6.4 40,6 50,5.4 60,5 70,4.4 80,3.6 86,2.8 89,7.4 93,7 96,6.4 100,2"/><rect class="c12" x="744" width="33" height="19.1"/><text class="v vd" x="746.5" y="12.6">39.68</text><text class="a" x="812" y="12.6">95+ years</text><path class="sep" d="M449 19.58h69M777 19.58h70"/></g>
</g>
<text class="wm" x="608.3" y="582.3" textLength="93.5" lengthAdjust="spacingAndGlyphs">Male</text>

<!-- ================= PANEL B (table) ================= -->
<text class="lab" x="43" y="745" font-size="14.5">(B)</text>
<text class="hd" x="89" y="747.3">age</text><text class="hd" x="366" y="747.3">age</text>
<text class="ttl" x="225.3" y="746.6" font-size="6.6" textLength="156" lengthAdjust="spacingAndGlyphs">Global Incidence Rates by Age Group (1990-2021)</text>
<path d="M60.7 751.7H143M310 751.7H393" stroke="#333" stroke-width="1.1"/>
<g>
<g transform="translate(0,752)"><text class="a" x="89" y="10.6">&lt;5 years</text><rect class="c0" x="118" width="25" height="16.1"/><text class="v" x="120" y="10.6">0.00</text><polyline class="s" transform="translate(173 0) scale(1.05 1.65)" points="0,3.6 100,3.6"/><rect class="c0" x="310" width="28" height="16.1"/><text class="v" x="312" y="10.6">0.00</text><text class="a" x="366" y="10.6">&lt;5 years</text><path class="sep" d="M60.7 16.5h57M338 16.5h55"/></g>
<g transform="translate(0,768.5)"><text class="a" x="89" y="10.6">05-09 years</text><rect class="c0" x="118" width="25" height="16.1"/><text class="v" x="120" y="10.6">0.00</text><polyline class="s" transform="translate(173 0) scale(1.05 1.65)" points="0,3.6 100,3.6"/><rect class="c0" x="310" width="28" height="16.1"/><text class="v" x="312" y="10.6">0.00</text><text class="a" x="366" y="10.6">05-09 years</text><path class="sep" d="M60.7 16.5h57M338 16.5h55"/></g>
<g transform="translate(0,785)"><text class="a" x="89" y="10.6">10-14 years</text><rect class="c0" x="118" width="25" height="16.1"/><text class="v" x="120" y="10.6">0.00</text><polyline class="s" transform="translate(173 0) scale(1.05 1.65)" points="0,3.6 100,3.6"/><rect class="c0" x="310" width="28" height="16.1"/><text class="v" x="312" y="10.6">0.00</text><text class="a" x="366" y="10.6">10-14 years</text><path class="sep" d="M60.7 16.5h57M338 16.5h55"/></g>
<g transform="translate(0,801.5)"><text class="a" x="89" y="10.6">15-19 years</text><rect class="c0" x="118" width="25" height="16.1"/><text class="v" x="120" y="10.6">0.00</text><polyline class="s" transform="translate(173 0) scale(1.05 1.65)" points="0,3.6 100,3.6"/><rect class="c0" x="310" width="28" height="16.1"/><text class="v" x="312" y="10.6">0.00</text><text class="a" x="366" y="10.6">15-19 years</text><path class="sep" d="M60.7 16.5h57M338 16.5h55"/></g>
<g transform="translate(0,818)"><text class="a" x="89" y="10.6">20-24 years</text><rect class="c0" x="118" width="25" height="16.1"/><text class="v" x="120" y="10.6">0.01</text><polyline class="s" transform="translate(173 0) scale(1.05 1.65)" points="0,8.4 2,8.4 6,5.8 58,5.8 61,3.2 100,3.2"/><rect class="c0" x="310" width="28" height="16.1"/><text class="v" x="312" y="10.6">0.03</text><text class="a" x="366" y="10.6">20-24 years</text><path class="sep" d="M60.7 16.5h57M338 16.5h55"/></g>
<g transform="translate(0,834.5)"><text class="a" x="89" y="10.6">25-29 years</text><rect class="c0" x="118" width="25" height="16.1"/><text class="v" x="120" y="10.6">0.02</text><polyline class="s" transform="translate(173 0) scale(1.05 1.65)" points="0,8.6 7,8.6 10,6 58,6 61,3.4 100,3.4"/><rect class="c0" x="310" width="28" height="16.1"/><text class="v" x="312" y="10.6">0.04</text><text class="a" x="366" y="10.6">25-29 years</text><path class="sep" d="M60.7 16.5h57M338 16.5h55"/></g>
<g transform="translate(0,851)"><text class="a" x="89" y="10.6">30-34 years</text><rect class="c0" x="118" width="25" height="16.1"/><text class="v" x="120" y="10.6">0.05</text><polyline class="s" transform="translate(173 0) scale(1.05 1.65)" points="0,8.4 5,7.8 10,7.2 20,7 24,6 40,6 56,5.8 60,5 80,5 88,4.6 91,3.4 100,3.4"/><rect class="c0" x="310" width="28" height="16.1"/><text class="v" x="312" y="10.6">0.09</text><text class="a" x="366" y="10.6">30-34 years</text><path class="sep" d="M60.7 16.5h57M338 16.5h55"/></g>
<g transform="translate(0,867.5)"><text class="a" x="89" y="10.6">35-39 years</text><rect class="c0" x="118" width="25" height="16.1"/><text class="v" x="120" y="10.6">0.13</text><polyline class="s" transform="translate(173 0) scale(1.05 1.65)" points="0,8 8,6.8 16,6 26,5 36,4.8 46,4.8 56,4.6 66,4.4 76,3.8 86,3.4 100,3.2"/><rect class="c0" x="310" width="28" height="16.1"/><text class="v" x="312" y="10.6">0.20</text><text class="a" x="366" y="10.6">35-39 years</text><path class="sep" d="M60.7 16.5h57M338 16.5h55"/></g>
<g transform="translate(0,884)"><text class="a" x="89" y="10.6">40-44 years</text><rect class="c0" x="118" width="25" height="16.1"/><text class="v" x="120" y="10.6">0.32</text><polyline class="s" transform="translate(173 0) scale(1.05 1.65)" points="0,8 10,6.4 20,5.2 30,4.8 40,4.4 50,4.4 60,4.6 70,4.4 80,4 90,3.8 100,3.6"/><rect class="c0" x="310" width="28" height="16.1"/><text class="v" x="312" y="10.6">0.42</text><text class="a" x="366" y="10.6">40-44 years</text><path class="sep" d="M60.7 16.5h57M338 16.5h55"/></g>
<g transform="translate(0,900.5)"><text class="a" x="89" y="10.6">45-49 years</text><rect class="c0" x="118" width="25" height="16.1"/><text class="v" x="120" y="10.6">0.73</text><polyline class="s" transform="translate(173 0) scale(1.05 1.65)" points="0,8 10,6 20,4.8 30,4.2 40,4 50,4.2 60,4.4 70,4.4 80,4.4 90,4.6 100,4.8"/><rect class="c0" x="310" width="28" height="16.1"/><text class="v" x="312" y="10.6">0.84</text><text class="a" x="366" y="10.6">45-49 years</text><path class="sep" d="M60.7 16.5h57M338 16.5h55"/></g>
<g transform="translate(0,917)"><text class="a" x="89" y="10.6">50-54 years</text><rect class="c1" x="118" width="25" height="16.1"/><text class="v" x="120" y="10.6">1.48</text><polyline class="s" transform="translate(173 0) scale(1.05 1.65)" points="0,8 10,6.2 20,4.6 30,3.8 40,3.8 50,4.2 60,4.6 70,4.6 80,4.6 90,4.8 100,5.2"/><rect class="c0" x="310" width="28" height="16.1"/><text class="v" x="312" y="10.6">1.63</text><text class="a" x="366" y="10.6">50-54 years</text><path class="sep" d="M60.7 16.5h57M338 16.5h55"/></g>
<g transform="translate(0,933.5)"><text class="a" x="89" y="10.6">55-59 years</text><rect class="c2" x="118" width="25" height="16.1"/><text class="v" x="120" y="10.6">2.56</text><polyline class="s" transform="translate(173 0) scale(1.05 1.65)" points="0,8 10,6.2 20,4.6 30,3.6 40,3.8 50,4.4 60,4.6 70,5 80,4.6 90,4.8 100,5.6"/><rect class="c2" x="310" width="28" height="16.1"/><text class="v" x="312" y="10.6">2.80</text><text class="a" x="366" y="10.6">55-59 years</text><path class="sep" d="M60.7 16.5h57M338 16.5h55"/></g>
<g transform="translate(0,950)"><text class="a" x="89" y="10.6">60-64 years</text><rect class="c3" x="118" width="25" height="16.1"/><text class="v" x="120" y="10.6">4.44</text><polyline class="s" transform="translate(173 0) scale(1.05 1.65)" points="0,8 10,6 20,4.6 30,3.8 40,3.6 50,3.8 60,4.2 70,4.6 80,5.2 90,4 94,4.6 100,4"/><rect class="c3" x="310" width="28" height="16.1"/><text class="v" x="312" y="10.6">4.74</text><text class="a" x="366" y="10.6">60-64 years</text><path class="sep" d="M60.7 16.5h57M338 16.5h55"/></g>
<g transform="translate(0,966.5)"><text class="a" x="89" y="10.6">65-69 years</text><rect class="c5" x="118" width="25" height="16.1"/><text class="v" x="120" y="10.6">6.57</text><polyline class="s" transform="translate(173 0) scale(1.05 1.65)" points="0,8 10,6 20,4.6 30,4 40,4.4 50,3.8 60,4 70,4.4 80,5 88,5 94,6 100,7"/><rect class="c4" x="310" width="28" height="16.1"/><text class="v" x="312" y="10.6">6.60</text><text class="a" x="366" y="10.6">65-69 years</text><path class="sep" d="M60.7 16.5h57M338 16.5h55"/></g>
<g transform="translate(0,983)"><text class="a" x="89" y="10.6">70-74 years</text><rect class="c6" x="118" width="25" height="16.1"/><text class="v" x="120" y="10.6">8.62</text><polyline class="s" transform="translate(173 0) scale(1.05 1.65)" points="0,8 10,6.4 20,5 30,4 40,4.4 50,4.6 60,4.6 70,4.8 80,4.8 90,5 100,5.6"/><rect class="c6" x="310" width="28" height="16.1"/><text class="v" x="312" y="10.6">9.46</text><text class="a" x="366" y="10.6">70-74 years</text><path class="sep" d="M60.7 16.5h57M338 16.5h55"/></g>
<g transform="translate(0,999.5)"><text class="a" x="89" y="10.6">75-79 years</text><rect class="c8" x="118" width="25" height="16.1"/><text class="v" x="120" y="10.6">11.76</text><polyline class="s" transform="translate(173 0) scale(1.05 1.65)" points="0,8.4 10,6.8 20,5.2 28,3.2 36,4.8 50,5.4 60,5.6 70,5.6 80,5.4 90,5.4 100,5.8"/><rect class="c7" x="310" width="28" height="16.1"/><text class="v" x="312" y="10.6">12.64</text><text class="a" x="366" y="10.6">75-79 years</text><path class="sep" d="M60.7 16.5h57M338 16.5h55"/></g>
<g transform="translate(0,1016)"><text class="a" x="89" y="10.6">80-84 years</text><rect class="c10" x="118" width="25" height="16.1"/><text class="v vd" x="120" y="10.6">14.15</text><polyline class="s" transform="translate(173 0) scale(1.05 1.65)" points="0,8.4 10,6.4 20,5.2 30,4.6 40,4.4 50,4 60,4.4 70,4.6 80,4.4 90,4.4 100,5"/><rect class="c9" x="310" width="28" height="16.1"/><text class="v vd" x="312" y="10.6">15.30</text><text class="a" x="366" y="10.6">80-84 years</text><path class="sep" d="M60.7 16.5h57M338 16.5h55"/></g>
<g transform="translate(0,1032.5)"><text class="a" x="89" y="10.6">85-89 years</text><rect class="c11" x="118" width="25" height="16.1"/><text class="v vd" x="120" y="10.6">15.60</text><polyline class="s" transform="translate(173 0) scale(1.05 1.65)" points="0,8.6 10,7 20,5.4 30,4.2 40,5 50,3.8 60,4.6 70,4.4 80,4 90,4.6 100,6"/><rect class="c10" x="310" width="28" height="16.1"/><text class="v vd" x="312" y="10.6">18.11</text><text class="a" x="366" y="10.6">85-89 years</text><path class="sep" d="M60.7 16.5h57M338 16.5h55"/></g>
<g transform="translate(0,1049)"><text class="a" x="89" y="10.6">90-94 years</text><rect class="c12" x="118" width="25" height="16.1"/><text class="v vd" x="120" y="10.6">17.27</text><polyline class="s" transform="translate(173 0) scale(1.05 1.65)" points="0,8.6 10,7.6 20,6.4 30,5.2 40,4.6 50,4.8 60,4.6 70,4 80,3.8 90,3.6 100,4.4"/><rect class="c12" x="310" width="28" height="16.1"/><text class="v vd" x="312" y="10.6">21.82</text><text class="a" x="366" y="10.6">90-94 years</text><path class="sep" d="M60.7 16.5h57M338 16.5h55"/></g>
<g transform="translate(0,1065.5)"><text class="a" x="89" y="10.6">95+ years</text><rect class="c8" x="118" width="25" height="16.1"/><text class="v" x="120" y="10.6">11.84</text><polyline class="s" transform="translate(173 0) scale(1.05 1.65)" points="0,8.8 10,7.8 20,6.6 30,5.8 40,6 50,5.4 60,5.4 70,5 80,4.4 88,3.6 94,4.2 100,4.6"/><rect class="c9" x="310" width="28" height="16.1"/><text class="v vd" x="312" y="10.6">16.21</text><text class="a" x="366" y="10.6">95+ years</text><path class="sep" d="M60.7 16.5h57M338 16.5h55"/></g>
</g>
<text class="wm" x="156.7" y="913.3" textLength="145" lengthAdjust="spacingAndGlyphs">Female</text>

<!-- ================= PANEL D (table) ================= -->
<text class="lab" x="430" y="744.5" font-size="15">(D)</text>
<text class="hd" x="487" y="749.5" font-size="7.5">age</text><text class="hd" x="811" y="749.5" font-size="7.5">age</text>
<text class="ttl" x="651.7" y="748.4" font-size="7.6" textLength="180" lengthAdjust="spacingAndGlyphs">Global Mortality Rates by Age Group (1990-2021)</text>
<path d="M453 754H554M744 754H845" stroke="#333" stroke-width="1.1"/>
<g class="g2">
<g transform="translate(0,755.3)"><text class="a" x="487" y="12.4">20-24 years</text><rect class="c0" x="521" width="33" height="18.8"/><text class="v" x="523" y="12.4">0.01</text><polyline class="s" transform="translate(590 0) scale(1.25 1.923)" points="0,7 10,7 12,0.8 92,0.8 94,7 96,6 100,0.5"/><rect class="c0" x="744" width="33" height="18.8"/><text class="v" x="746.5" y="12.4">0.02</text><text class="a" x="811" y="12.4">20-24 years</text><path class="sep" d="M453 19.23h68M777 19.23h68"/></g>
<g transform="translate(0,774.53)"><text class="a" x="487" y="12.4">25-29 years</text><rect class="c0" x="521" width="33" height="18.8"/><text class="v" x="523" y="12.4">0.02</text><polyline class="s" transform="translate(590 0) scale(1.25 1.923)" points="0,7 52,7 55,2 86,2 89,7 95,7 100,0.5"/><rect class="c0" x="744" width="33" height="18.8"/><text class="v" x="746.5" y="12.4">0.03</text><text class="a" x="811" y="12.4">25-29 years</text><path class="sep" d="M453 19.23h68M777 19.23h68"/></g>
<g transform="translate(0,793.76)"><text class="a" x="487" y="12.4">30-34 years</text><rect class="c0" x="521" width="33" height="18.8"/><text class="v" x="523" y="12.4">0.04</text><polyline class="s" transform="translate(590 0) scale(1.25 1.923)" points="0,7 16,7 18,4 80,4 84,1 86,4 88,7 92,4 96,7 100,0.5"/><rect class="c0" x="744" width="33" height="18.8"/><text class="v" x="746.5" y="12.4">0.06</text><text class="a" x="811" y="12.4">30-34 years</text><path class="sep" d="M453 19.23h68M777 19.23h68"/></g>
<g transform="translate(0,812.99)"><text class="a" x="487" y="12.4">35-39 years</text><rect class="c0" x="521" width="33" height="18.8"/><text class="v" x="523" y="12.4">0.09</text><polyline class="s" transform="translate(590 0) scale(1.25 1.923)" points="0,7.2 6,6.2 10,5.2 20,5 24,3.8 26,5 30,3.8 34,5.2 50,4.6 70,4.8 76,3.2 86,3.2 88,5.2 92,7 96,3.6 100,0.5"/><rect class="c0" x="744" width="33" height="18.8"/><text class="v" x="746.5" y="12.4">0.12</text><text class="a" x="811" y="12.4">35-39 years</text><path class="sep" d="M453 19.23h68M777 19.23h68"/></g>
<g transform="translate(0,832.22)"><text class="a" x="487" y="12.4">40-44 years</text><rect class="c0" x="521" width="33" height="18.8"/><text class="v" x="523" y="12.4">0.22</text><polyline class="s" transform="translate(590 0) scale(1.25 1.923)" points="0,7.2 8,6 12,3.6 16,2.8 22,3 26,5 30,4.2 34,3.2 40,5 60,5 70,4.6 78,3.2 84,3.2 88,5.6 92,3 94,6.8 98,4 100,1"/><rect class="c0" x="744" width="33" height="18.8"/><text class="v" x="746.5" y="12.4">0.25</text><text class="a" x="811" y="12.4">40-44 years</text><path class="sep" d="M453 19.23h68M777 19.23h68"/></g>
<g transform="translate(0,851.45)"><text class="a" x="487" y="12.4">45-49 years</text><rect class="c0" x="521" width="33" height="18.8"/><text class="v" x="523" y="12.4">0.49</text><polyline class="s" transform="translate(590 0) scale(1.25 1.923)" points="0,7 8,5.8 14,3.6 20,3 30,4.4 38,3.4 45,4.8 55,5.6 65,6 75,5.6 82,4.4 86,5.2 90,2.8 95,4.6 100,5"/><rect class="c0" x="744" width="33" height="18.8"/><text class="v" x="746.5" y="12.4">0.51</text><text class="a" x="811" y="12.4">45-49 years</text><path class="sep" d="M453 19.23h68M777 19.23h68"/></g>
<g transform="translate(0,870.68)"><text class="a" x="487" y="12.4">50-54 years</text><rect class="c0" x="521" width="33" height="18.8"/><text class="v" x="523" y="12.4">1.00</text><polyline class="s" transform="translate(590 0) scale(1.25 1.923)" points="0,7.6 8,5.8 14,4.6 20,3.8 26,3.2 30,4.6 34,3.6 38,4.6 50,4.4 60,4.8 70,5 80,5.2 86,3.2 90,3.6 94,5.4 100,6"/><rect class="c0" x="744" width="33" height="18.8"/><text class="v" x="746.5" y="12.4">0.97</text><text class="a" x="811" y="12.4">50-54 years</text><path class="sep" d="M453 19.23h68M777 19.23h68"/></g>
<g transform="translate(0,889.91)"><text class="a" x="487" y="12.4">55-59 years</text><rect class="c0" x="521" width="33" height="18.8"/><text class="v" x="523" y="12.4">1.85</text><polyline class="s" transform="translate(590 0) scale(1.25 1.923)" points="0,7 8,5.8 14,4.4 22,4 30,3.6 38,4.2 46,5 56,4.8 66,5 76,4.6 84,3.6 88,4 92,4.6 96,5.6 100,6"/><rect class="c0" x="744" width="33" height="18.8"/><text class="v" x="746.5" y="12.4">1.81</text><text class="a" x="811" y="12.4">55-59 years</text><path class="sep" d="M453 19.23h68M777 19.23h68"/></g>
<g transform="translate(0,909.14)"><text class="a" x="487" y="12.4">60-64 years</text><rect class="c2" x="521" width="33" height="18.8"/><text class="v" x="523" y="12.4">3.39</text><polyline class="s" transform="translate(590 0) scale(1.25 1.923)" points="0,6.4 8,5.4 14,4.6 22,4 30,4.6 38,4 46,4.8 56,5.2 66,5.4 76,5.2 84,4 88,5 92,5.4 96,6.2 100,7"/><rect class="c2" x="744" width="33" height="18.8"/><text class="v" x="746.5" y="12.4">3.28</text><text class="a" x="811" y="12.4">60-64 years</text><path class="sep" d="M453 19.23h68M777 19.23h68"/></g>
<g transform="translate(0,928.37)"><text class="a" x="487" y="12.4">65-69 years</text><rect class="c3" x="521" width="33" height="18.8"/><text class="v" x="523" y="12.4">5.36</text><polyline class="s" transform="translate(590 0) scale(1.25 1.923)" points="0,6.2 8,5.4 16,5 24,4 30,4.8 38,4.8 46,5.4 56,5.8 66,5.8 76,6.2 84,6.4 88,3.2 92,4 96,4.8 100,6.8"/><rect class="c3" x="744" width="33" height="18.8"/><text class="v" x="746.5" y="12.4">4.96</text><text class="a" x="811" y="12.4">65-69 years</text><path class="sep" d="M453 19.23h68M777 19.23h68"/></g>
<g transform="translate(0,947.6)"><text class="a" x="487" y="12.4">70-74 years</text><rect class="c5" x="521" width="33" height="18.8"/><text class="v" x="523" y="12.4">7.58</text><polyline class="s" transform="translate(590 0) scale(1.25 1.923)" points="0,7.4 6,4.6 12,3.4 20,3.4 26,4.2 30,3.4 34,4.6 40,4.2 50,5.2 60,5.2 70,5.4 80,5.4 85,4.6 88,2.4 92,3.4 96,5 100,6.2"/><rect class="c4" x="744" width="33" height="18.8"/><text class="v" x="746.5" y="12.4">7.60</text><text class="a" x="811" y="12.4">70-74 years</text><path class="sep" d="M453 19.23h68M777 19.23h68"/></g>
<g transform="translate(0,966.83)"><text class="a" x="487" y="12.4">75-79 years</text><rect class="c6" x="521" width="33" height="18.8"/><text class="v" x="523" y="12.4">10.91</text><polyline class="s" transform="translate(590 0) scale(1.25 1.923)" points="0,7 8,5.2 14,3.8 20,3.2 26,4.8 32,4.6 40,4.8 50,5 60,5.2 70,5 80,4.8 84,5.4 90,2.4 96,5.6 100,6.4"/><rect class="c6" x="744" width="33" height="18.8"/><text class="v" x="746.5" y="12.4">10.79</text><text class="a" x="811" y="12.4">75-79 years</text><path class="sep" d="M453 19.23h68M777 19.23h68"/></g>
<g transform="translate(0,986.06)"><text class="a" x="487" y="12.4">80-84 years</text><rect class="c8" x="521" width="33" height="18.8"/><text class="v" x="523" y="12.4">14.28</text><polyline class="s" transform="translate(590 0) scale(1.25 1.923)" points="0,7.6 8,6.2 16,4.4 24,3.6 30,4.4 36,4.8 44,4.4 52,4.6 60,4.8 70,5.4 80,5.6 86,4.4 90,2.6 96,5.4 100,6"/><rect class="c7" x="744" width="33" height="18.8"/><text class="v" x="746.5" y="12.4">14.32</text><text class="a" x="811" y="12.4">80-84 years</text><path class="sep" d="M453 19.23h68M777 19.23h68"/></g>
<g transform="translate(0,1005.29)"><text class="a" x="487" y="12.4">85-89 years</text><rect class="c10" x="521" width="33" height="18.8"/><text class="v vd" x="523" y="12.4">17.51</text><polyline class="s" transform="translate(590 0) scale(1.25 1.923)" points="0,8 8,6.8 16,5.4 22,4.4 26,3.4 30,4.8 34,3.6 38,4.6 46,4.4 56,5 66,5.2 76,5 84,5.6 88,3.2 92,6.8 96,5 100,5"/><rect class="c10" x="744" width="33" height="18.8"/><text class="v vd" x="746.5" y="12.4">18.28</text><text class="a" x="811" y="12.4">85-89 years</text><path class="sep" d="M453 19.23h68M777 19.23h68"/></g>
<g transform="translate(0,1024.52)"><text class="a" x="487" y="12.4">90-94 years</text><rect class="c12" x="521" width="33" height="18.8"/><text class="v vd" x="523" y="12.4">21.22</text><polyline class="s" transform="translate(590 0) scale(1.25 1.923)" points="0,8 8,7 16,5.8 24,4.6 30,4.2 38,4.6 46,5.6 56,5.4 66,5.2 76,5.4 84,5.4 88,4.4 90,6 94,3.4 96,6 100,3"/><rect class="c12" x="744" width="33" height="18.8"/><text class="v vd" x="746.5" y="12.4">23.73</text><text class="a" x="811" y="12.4">90-94 years</text><path class="sep" d="M453 19.23h68M777 19.23h68"/></g>
<g transform="translate(0,1043.75)"><text class="a" x="487" y="12.4">95+ years</text><rect class="c10" x="521" width="33" height="18.8"/><text class="v vd" x="523" y="12.4">18.61</text><polyline class="s" transform="translate(590 0) scale(1.25 1.923)" points="0,8.2 8,7.6 16,6.8 24,6 32,5.8 40,5.8 50,5.6 60,5 70,4.4 80,4 86,4.4 88,3 92,5.8 96,5.6 100,2.6"/><rect class="c12" x="744" width="33" height="18.8"/><text class="v vd" x="746.5" y="12.4">24.81</text><text class="a" x="811" y="12.4">95+ years</text><path class="sep" d="M453 19.23h68M777 19.23h68"/></g>
</g>
<text class="wm" x="579.3" y="914.7" textLength="145" lengthAdjust="spacingAndGlyphs">Female</text>

<!-- ================= FIGURE 3 CAPTION ================= -->
<text class="fig" x="20" y="1116" textLength="73" lengthAdjust="spacingAndGlyphs">FIGURE 3</text>
<text class="cap" x="113" y="1116" textLength="714" lengthAdjust="spacingAndGlyphs">By age groups, the global incidence and mortality rates of multiple myeloma from 1990 to 2021. (A) Incidence rates for males; (B)</text>
<text class="cap" x="20" y="1134" textLength="850" lengthAdjust="spacingAndGlyphs">incidence rates for females; (C) death rates for males; (D) death rates for females. The left and right sides were the data of 1990 and 2021, respectively, and</text>
<text class="cap" x="20" y="1152" textLength="360" lengthAdjust="spacingAndGlyphs">the middle line represents the change trend over the past 30 years.</text>
</svg>
</body></html>
